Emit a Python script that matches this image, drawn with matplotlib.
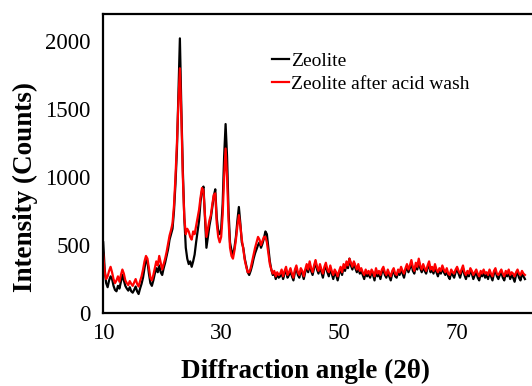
import numpy as np
import matplotlib
matplotlib.use("Agg")
import matplotlib.pyplot as plt

# 2-theta grid, 0.25 deg step from 10 to 81.5
angle = np.arange(10.0, 81.51, 0.25)

zeolite = (
    # 10 - 14.75
    [520, 320, 220, 190, 240, 270, 250, 200, 170, 160, 200, 180, 230, 280, 240, 200, 180, 165, 190, 160]
    # 15 - 19.75
    + [150, 170, 195, 160, 140, 180, 215, 260, 330, 390, 380, 290, 220, 200, 240, 290, 330, 300, 350, 300]
    # 20 - 24.75
    + [280, 330, 370, 420, 470, 540, 580, 620, 750, 950, 1200, 1600, 2020, 1500, 1050, 700, 480, 400, 360, 380]
    # 25 - 29.75
    + [340, 380, 430, 520, 600, 680, 820, 900, 930, 700, 480, 560, 640, 700, 780, 860, 910, 700, 600, 580]
    # 30 - 34.75
    + [620, 800, 1150, 1390, 1150, 750, 520, 460, 430, 480, 560, 680, 780, 660, 520, 480, 400, 350, 300, 280]
    # 35 - 39.75
    + [310, 350, 400, 440, 470, 500, 520, 480, 510, 550, 600, 580, 480, 380, 320, 280, 300, 250, 290, 260]
    # 40 - 44.75
    + [270, 300, 250, 290, 320, 260, 280, 310, 270, 240, 300, 330, 280, 260, 310, 290, 250, 300, 340, 300]
    # 45 - 49.75
    + [360, 310, 280, 330, 380, 320, 290, 340, 300, 260, 320, 350, 300, 270, 330, 290, 250, 300, 280, 240]
    # 50 - 54.75
    + [290, 320, 280, 340, 310, 360, 330, 400, 350, 320, 370, 330, 300, 340, 290, 310, 280, 250, 300, 270]
    # 55 - 59.75
    + [290, 260, 300, 280, 240, 310, 270, 290, 250, 300, 320, 280, 260, 300, 270, 240, 290, 310, 270, 260]
    # 60 - 64.75
    + [300, 280, 320, 290, 260, 310, 340, 300, 330, 370, 310, 290, 350, 320, 380, 330, 300, 340, 310, 290]
    # 65 - 69.75
    + [330, 360, 300, 320, 290, 340, 300, 270, 310, 290, 330, 300, 280, 310, 270, 250, 300, 280, 260, 300]
    # 70 - 74.75
    + [320, 290, 260, 300, 330, 280, 250, 290, 270, 310, 290, 250, 280, 300, 260, 240, 290, 270, 300, 260]
    # 75 - 79.75
    + [280, 250, 300, 270, 240, 290, 310, 270, 250, 280, 300, 260, 240, 290, 270, 300, 250, 280, 260, 230]
    # 80 - 81.5
    + [280, 300, 260, 240, 290, 270, 250]
)

acid_wash = (
    [430, 300, 250, 270, 310, 340, 300, 250, 220, 240, 270, 230, 280, 320, 290, 240, 220, 205, 235, 215]
    + [200, 225, 250, 215, 195, 235, 270, 320, 380, 420, 400, 330, 260, 240, 280, 330, 380, 350, 420, 370]
    + [320, 360, 400, 450, 510, 570, 610, 660, 790, 1000, 1250, 1550, 1800, 1450, 1000, 700, 580, 620, 600, 560]
    + [540, 600, 580, 640, 700, 760, 850, 920, 900, 720, 560, 620, 680, 720, 800, 870, 880, 660, 560, 520]
    + [560, 720, 1000, 1210, 1000, 680, 480, 420, 400, 460, 540, 640, 720, 640, 540, 470, 390, 340, 300, 300]
    + [330, 380, 430, 480, 520, 560, 540, 500, 530, 560, 560, 520, 440, 360, 320, 290, 310, 270, 300, 280]
    + [290, 320, 270, 310, 340, 280, 300, 330, 290, 260, 320, 350, 300, 280, 330, 310, 270, 320, 360, 320]
    + [380, 330, 300, 350, 390, 340, 310, 360, 320, 290, 340, 370, 320, 300, 350, 310, 280, 320, 300, 270]
    + [310, 340, 300, 360, 330, 380, 350, 400, 370, 340, 380, 350, 320, 360, 310, 330, 300, 280, 320, 290]
    + [310, 280, 320, 300, 270, 330, 290, 310, 280, 320, 340, 300, 280, 320, 290, 270, 310, 330, 290, 280]
    + [320, 300, 340, 310, 290, 330, 360, 320, 350, 390, 340, 310, 370, 340, 400, 350, 320, 360, 330, 310]
    + [350, 380, 320, 340, 310, 360, 320, 300, 330, 310, 350, 320, 300, 330, 290, 280, 320, 300, 290, 320]
    + [340, 310, 290, 320, 350, 300, 280, 310, 290, 330, 310, 280, 300, 320, 290, 270, 310, 290, 320, 290]
    + [300, 280, 320, 290, 270, 310, 330, 290, 280, 300, 320, 290, 270, 310, 290, 320, 280, 300, 290, 270]
    + [300, 320, 290, 280, 310, 290, 280]
)

x_ticks = [10, 30, 50, 70]
y_ticks = [0, 500, 1000, 1500, 2000]

plt.rcParams["font.family"] = ["Liberation Serif", "DejaVu Serif"]

fig = plt.figure(figsize=(5.32, 3.86), dpi=100)
ax = fig.add_axes([0.194, 0.189, 0.806, 0.775])

ax.plot(angle, zeolite, color="black", lw=1.6, label="Zeolite")
ax.plot(angle, acid_wash, color="#ff0000", lw=1.6, label="Zeolite after acid wash")

ax.set_xlim(10, 82.7)
ax.set_ylim(0, 2200)
ax.set_xticks(x_ticks)
ax.set_yticks(y_ticks)
ax.tick_params(length=0, labelsize=16.5)
ax.tick_params(axis="y", pad=9)
ax.tick_params(axis="x", pad=7)

for side in ["left", "bottom", "top"]:
    ax.spines[side].set_linewidth(1.6)
    ax.spines[side].set_color("black")
ax.spines["right"].set_visible(False)

ax.set_xlabel("Diffraction angle (2θ)", fontsize=19.5, fontweight="bold")
ax.set_ylabel("Intensity (Counts)", fontsize=19.5, fontweight="bold")
# titles sit a bit off the axes centre in the original
ax.xaxis.set_label_coords(0.471, -0.152)
ax.yaxis.set_label_coords(-0.152, 0.42)

ax.legend(loc="upper left", bbox_to_anchor=(0.37, 0.905), frameon=False,
          fontsize=14, handlelength=0.9, handletextpad=0.1,
          labelspacing=0.3, borderpad=0)

fig.savefig("out.png", dpi=100)
